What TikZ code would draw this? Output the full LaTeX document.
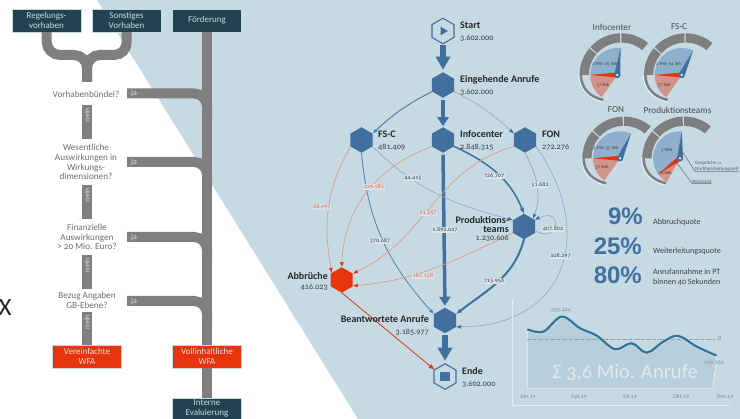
\documentclass[tikz,border=0pt]{standalone}
\usepackage{fontspec}
\setmainfont[Numbers=OldStyle]{Carlito}
\newfontfamily\pctfont{Liberation Sans}
\usetikzlibrary{arrows.meta,shapes.geometric,positioning}
\definecolor{paleblue}{HTML}{C6DAE4}
\definecolor{flowblue}{HTML}{41709E}
\definecolor{softblue}{HTML}{8FAECA}
\definecolor{flowred}{HTML}{E8330F}
\definecolor{softred}{HTML}{DE9A8A}
\definecolor{darkbox}{HTML}{234250}
\definecolor{bargrey}{HTML}{7F7F7F}
\definecolor{asktext}{HTML}{6E6E6E}
\definecolor{sectorblue}{HTML}{8FB0CC}
\definecolor{sectorred}{HTML}{D2948A}
\definecolor{chartarea}{HTML}{B7CEDB}
\tikzset{
  darkstage/.style={rectangle,fill=darkbox,draw=paleblue,line width=0.3pt,text=paleblue,
    minimum width=69pt,minimum height=23pt,inner sep=0pt,align=center,font=\fontsize{9}{10}\selectfont},
  redstage/.style={darkstage,fill=flowred,text=white!85!flowred},
  asknode/.style={align=center,inner sep=0pt,text=asktext,font=\fontsize{9.2}{9.7}\selectfont},
  barjoin/.style={draw=bargrey,line width=10pt,rounded corners=13pt},
  barlabel/.style={inner sep=0pt,text=white!75!bargrey,font=\fontsize{8}{8}\selectfont},
  hexnode/.style={regular polygon,regular polygon sides=6,shape border rotate=30,
    minimum size=25.5pt,inner sep=0pt,outer sep=0pt,fill=flowblue},
  hexring/.style={hexnode,fill=none,draw=flowblue,line width=1.1pt},
  flowname/.style={inner sep=0pt,text=black!85,font=\bfseries\fontsize{10}{10}\selectfont},
  flownum/.style={inner sep=0pt,text=black!75,font=\fontsize{8.2}{8}\selectfont},
  edgelabel/.style={fill=paleblue!70!white,inner sep=0.6pt,text=black!75,font=\fontsize{6.2}{6}\selectfont},
  redlabel/.style={edgelabel,text=flowred!80!white},
  bigflow/.style={flowblue,line width=6pt,-{Triangle[width=14pt,length=13pt]}},
  midflow/.style={flowblue,line width=3.5pt,-{Triangle[width=11pt,length=9pt]}},
  strongflow/.style={flowblue,line width=1.5pt,-{Latex[length=6pt,width=5pt]}},
  thinflow/.style={flowblue!90!white,line width=0.8pt,-{Latex[length=5pt,width=4pt]}},
  paleflow/.style={softblue,line width=0.7pt,-{Latex[length=5pt,width=4pt,color=flowblue]}},
  lossflow/.style={softred,line width=0.7pt,-{Latex[length=5pt,width=4pt,color=flowred]}},
  gaugetitle/.style={inner sep=0pt,text=black!70,font=\fontsize{9.2}{9}\selectfont},
  gaugetext/.style={inner sep=0pt,text=black!75,font=\fontsize{4.8}{5}\selectfont},
  noteline/.style={draw=black!60,line width=0.5pt},
  notetext/.style={inner sep=0pt,anchor=west,text=black!65,font=\fontsize{4.9}{6}\selectfont},
  bigpct/.style={inner sep=0pt,anchor=east,text=flowblue,font=\pctfont\bfseries\fontsize{24}{24}\selectfont},
  pcttext/.style={inner sep=0pt,anchor=west,align=left,text=black!75,font=\fontsize{8.1}{10}\selectfont},
  axistext/.style={inner sep=0pt,text=black!45,font=\fontsize{6}{6}\selectfont}
}
\begin{document}
\begin{tikzpicture}[x=1pt,y=-1pt,>=latex]
\useasboundingbox (0,0) rectangle (740,419);
\fill[white] (0,0) rectangle (740,419);
\fill[paleblue] (97,0) -- (358,419) -- (740,419) -- (740,0) -- cycle;

\node[font=\fontsize{25}{25}\selectfont,inner sep=0pt,text=black!85] (xmark) at (5,307) {X};

\node[darkstage] (regel) at (46.5,20.5) {Regelungs-\\vorhaben};
\node[darkstage] (sonst) at (126.5,20.5) {Sonstiges\\Vorhaben};
\node[darkstage] (foerd) at (207,20.5) {Förderung};
\node[redstage] (verein) at (87,356.5) {Vereinfachte\\WFA};
\node[redstage] (voll) at (207,356.5) {Vollinhaltliche\\WFA};
\node[darkstage,minimum height=21pt] (intern) at (207,408.5) {Interne\\Evaluierung};

\coordinate (merge) at (87,82);
\draw[barjoin] (regel.south) -- (47,55) -- (87,55) -- (merge);
\draw[barjoin] (sonst.south) -- (127,55) -- (87,55) -- (merge);
\draw[draw=bargrey,line width=10pt] (foerd.south) -- (voll.north);
\draw[draw=bargrey,line width=10pt] (voll.south) -- (intern.north);

\foreach \jy/\jname in {93.5/ja1,162/ja2,237/ja3,301/ja4}{
  \coordinate (\jname) at (127,\jy);
  \draw[barjoin] (\jname) -- (207,\jy) -- (207,\jy+24);
  \node[barlabel] at (134,\jy) {ja};
}
\foreach \nya/\nyb/\nname in {105/139/nein1,185/219/nein2,255/289/nein3,312/345/nein4}{
  \coordinate (\nname a) at (87,\nya);
  \coordinate (\nname b) at (87,\nyb);
  \draw[draw=bargrey,line width=10pt] (\nname a) -- (\nname b);
  \node[barlabel,rotate=90] at (87,\nya+10) {nein};
}

\node[asknode] (ask1) at (86,94) {Vorhabenbündel?};
\node[asknode] (ask2) at (86,162) {Wesentliche\\Auswirkungen in\\Wirkungs-\\dimensionen?};
\node[asknode] (ask3) at (87,237) {Finanzielle\\Auswirkungen\\> 20 Mio. Euro?};
\node[asknode] (ask4) at (87,300) {Bezug Angaben\\GB-Ebene?};

\node[hexring] (start) at (443,31) {};
\node[regular polygon,regular polygon sides=3,shape border rotate=-90,fill=flowblue,
  minimum size=10pt,inner sep=0pt] (startmark) at (443,31) {};
\node[hexnode] (eing) at (443,85) {};
\node[hexnode] (fsc) at (361.5,140) {};
\node[hexnode] (info) at (443,140) {};
\node[hexnode] (fon) at (525,140) {};
\node[hexnode] (prod) at (524,226.5) {};
\node[hexnode,fill=flowred] (abbr) at (341.7,280) {};
\node[hexnode] (beant) at (445,320.5) {};
\node[hexring] (ende) at (445,376.5) {};
\node[rectangle,fill=flowblue,minimum size=9.5pt,inner sep=0pt] (endemark) at (445,376.5) {};

\draw[bigflow,shorten <=1.5pt,shorten >=2.5pt] (start.south) -- (eing.north);
\draw[midflow,shorten <=2.5pt,shorten >=1pt] (eing.south) -- (info.north);
\draw[midflow,shorten <=2pt,shorten >=2pt] (info.south) -- (beant.north);
\draw[bigflow,shorten <=2pt,shorten >=3pt] (beant.south) -- (ende.north);

\draw[thinflow,line width=1pt] (eing.211) to[bend right=8] (fsc.30);
\draw[paleflow] (eing.-30) to[bend left=8] (fon.150);
\draw[lossflow] (fsc.211) to[out=240,in=100] (abbr.145);
\draw[thinflow] (fsc.south) to[out=-85,in=132] (beant.150);
\draw[paleflow] (fsc.-30) to[out=-45,in=165] (prod.150);
\draw[lossflow] (info.211) to[out=200,in=88] (abbr.north);
\draw[strongflow] (info.-30) to[out=-25,in=112] (prod.north);
\draw[lossflow] (fon.211) to[out=195,in=25] (abbr.30);
\draw[paleflow,line width=0.8pt] (fon.south) to[out=-62,in=70] (prod.40);
\draw[paleflow] (fon.-30) to[out=-55,in=0,looseness=1.4] (beant.-30);
\draw[paleflow] (prod.-20) .. controls +(24,15) and +(30,-14) .. (prod.32);
\draw[lossflow] (prod.211) to[out=205,in=5] (abbr.-28);
\draw[strongflow,line width=2pt] (prod.south) to[out=-105,in=38] (beant.30);
\draw[flowred,line width=0.8pt,-{Latex[length=6pt,width=5pt]}] (abbr.south) -- (ende.147);

\node[redlabel] (lab1) at (322,207) {66.997};
\node[redlabel] (lab2) at (374,187) {229.581};
\node[edgelabel] (lab3) at (413,178) {44.415};
\node[edgelabel] (lab4) at (494,176) {726.707};
\node[edgelabel] (lab5) at (540,185) {51.682};
\node[redlabel] (lab6) at (428,213.5) {21.257};
\node[edgelabel] (lab7) at (380,241) {370.687};
\node[edgelabel] (lab8) at (445,230) {1.892.027};
\node[edgelabel] (lab9) at (553,229) {407.802};
\node[edgelabel] (lab10) at (560.5,256) {108.297};
\node[redlabel] (lab11) at (423,276) {187.158};
\node[edgelabel] (lab12) at (494,281) {715.956};

\node[flowname,anchor=west] (tstart) at (460,25.5) {Start};
\node[flownum,anchor=west] (nstart) at (460,38) {3.602.000};
\node[flowname,anchor=west] (teing) at (460,80) {Eingehende Anrufe};
\node[flownum,anchor=west] (neing) at (460,92.5) {3.602.000};
\node[flowname,anchor=west] (tfsc) at (378,134.5) {FS-C};
\node[flownum,anchor=west] (nfsc) at (378,147) {481.409};
\node[flowname,anchor=west] (tinfo) at (460,134.5) {Infocenter};
\node[flownum,anchor=west] (ninfo) at (460,147) {2.848.315};
\node[flowname,anchor=west] (tfon) at (542,134.5) {FON};
\node[flownum,anchor=west] (nfon) at (542,147) {272.276};
\node[flowname,anchor=east,align=right,font=\bfseries\fontsize{10}{8.5}\selectfont] (tprod) at (509,224.5) {Produktions-\\teams};
\node[flownum,anchor=east] (nprod) at (509,238) {1.230.606};
\node[flowname,anchor=east] (tabbr) at (328,276) {Abbrüche};
\node[flownum,anchor=east] (nabbr) at (328,287) {416.023};
\node[flowname,anchor=east] (tbeant) at (429,319.5) {Beantwortete Anrufe};
\node[flownum,anchor=east] (nbeant) at (429,332) {3.185.977};
\node[flowname,anchor=west] (tende) at (462,371.5) {Ende};
\node[flownum,anchor=west] (nende) at (462,384) {3.602.000};

\foreach \gx/\gy/\gtip/\rtip/\ptip in {617.3/75/83/180/235,681.7/75/65/180/235,620/158.3/66/180/235,680/158.3/86/216/241}{
  \begin{scope}[shift={(\gx,\gy)},y=1pt]
    \foreach \ga/\gb in {50/90,92/138,140/180}{
      \fill[bargrey] ([xshift=4pt]\ga:41.7) arc[start angle=\ga,end angle=\gb,radius=41.7]
        -- ([xshift=4pt]\gb:32.5) arc[start angle=\gb,end angle=\ga,radius=32.5] -- cycle;
    }
    \draw[white!80!paleblue,line width=0.8pt] (-38.5,0) .. controls (-38,-15) and (-28,-24) .. (-14,-27);
    \draw[bargrey,line width=2.5pt] (-36.5,0) .. controls (-36,-14) and (-27,-22) .. (-14,-25);
    \fill[sectorblue] (0,0) -- (\rtip:27) arc[start angle=\rtip,end angle=\gtip,radius=27] -- cycle;
    \fill[sectorred] (0,0) -- (\ptip:27) arc[start angle=\ptip,end angle=\rtip,radius=27] -- cycle;
    \fill[flowblue] (\gtip:27) -- ({\gtip+90}:3) -- ({\gtip-90}:3) -- cycle;
    \fill[flowred] (\rtip:27) -- ({\rtip+90}:2.5) -- ({\rtip-90}:2.5) -- cycle;
    \fill[flowblue] (0,0) circle[radius=3.2];
    \fill[white] (0,0) circle[radius=1.2];
  \end{scope}
}

\node[gaugetitle] (ginfo) at (612,27) {Infocenter};
\node[gaugetitle] (gfsc) at (679,27) {FS-C};
\node[gaugetitle] (gfon) at (616,110) {FON};
\node[gaugetitle] (gprod) at (677.5,110) {Produktionsteams};
\node[gaugetext] (a1) at (605,64) {2 Min 25 Sek};
\node[gaugetext] (b1) at (602.7,85) {57 Sek};
\node[gaugetext] (a2) at (669,64) {2 Min 54 Sek};
\node[gaugetext] (b2) at (664,85) {57 Sek};
\node[gaugetext] (a3) at (606,147.7) {2 Min 55 Sek};
\node[gaugetext] (b3) at (601.7,166.7) {57 Sek};
\node[gaugetext] (a4) at (666.7,150) {3 Min};
\node[gaugetext] (b4) at (665,173.3) {16 Sek};

\node[notetext] (note1) at (695,162.7) {Gesprächs- u.};
\node[notetext] (note2) at (695,169) {Nachbearbeitungszeit};
\node[notetext] (note3) at (692,181.5) {Wartezeit};
\coordinate (dot1) at (680.7,149);
\coordinate (dot2) at (676,161.7);
\fill[black!70] (dot1) circle[radius=0.8];
\fill[black!70] (dot2) circle[radius=0.8];
\draw[noteline] (dot1) -- (note2.south west) -- (note2.south east);
\draw[noteline] (dot2) -- (note3.south west) -- (note3.south east);

\node[bigpct] (pct1) at (643,216) {9\%};
\node[bigpct] (pct2) at (642,246) {25\%};
\node[bigpct] (pct3) at (642,275) {80\%};
\node[pcttext] (ptext1) at (653,222) {Abbruchquote};
\node[pcttext] (ptext2) at (653,251.5) {Weiterleitungsquote};
\node[pcttext] (ptext3) at (653,277) {Anrufannahme in PT\\binnen 40 Sekunden};

\draw[white!55!paleblue,line width=0.7pt] (512,299) -- (512,405) -- (730,405);
\fill[chartarea] (527.3,388.3) -- plot[smooth,tension=0.6] coordinates {(527.3,329.3) (543.3,331.7) (561.7,316.7) (580,328.3) (596.7,335.7) (615,349.3) (631.7,343.3) (646.7,352.7) (663.3,341.7) (678.3,336) (696.7,346.7) (716.7,355.7)} -- (713,388.3) -- cycle;
\draw[white!65!paleblue,line width=0.7pt] (527.3,329.3) -- (527.3,388.3) -- (713,388.3) -- (716.7,355.7);
\draw[black!40,line width=0.4pt,dash pattern=on 3pt off 1pt on 1pt off 1pt] (527.3,339) -- (715,339);
\draw[white,line width=1pt,yshift=-1pt] plot[smooth,tension=0.6] coordinates {(527.3,329.3) (543.3,331.7) (561.7,316.7) (580,328.3) (596.7,335.7) (615,349.3) (631.7,343.3) (646.7,352.7) (663.3,341.7) (678.3,336) (696.7,346.7) (716.7,355.7)};
\draw[flowblue!80!teal,line width=2.2pt] plot[smooth,tension=0.6] coordinates {(527.3,329.3) (543.3,331.7) (561.7,316.7) (580,328.3) (596.7,335.7) (615,349.3) (631.7,343.3) (646.7,352.7) (663.3,341.7) (678.3,336) (696.7,346.7) (716.7,355.7)};
\node[axistext] (peak) at (561,310) {435.424};
\node[axistext] (low) at (714,363) {199.760};
\node[axistext] (mean) at (719.5,339) {Ø};
\node[axistext] (m1) at (528,397) {Jan.19};
\node[axistext] (m2) at (579,397) {Apr.19};
\node[axistext] (m3) at (630,397) {Jul.19};
\node[axistext] (m4) at (681,397) {Okt.19};
\node[axistext] (m5) at (725,397) {Dez.19};
\node[inner sep=0pt,text=paleblue!55!white,font=\fontsize{20.5}{20}\selectfont] (total) at (625,373) {Σ 3,6 Mio. Anrufe};
\end{tikzpicture}
\end{document}
